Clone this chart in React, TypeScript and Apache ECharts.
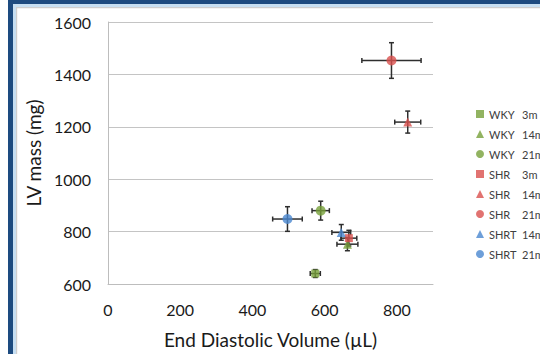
import React, { useEffect, useRef } from "react";
import * as echarts from "echarts";

const groups = ["WKY 3m", "WKY 14m", "WKY 21m", "SHR 3m", "SHR 14m", "SHR 21m", "SHRT 14m", "SHRT 21m"];
const edv = [574, 663, 589, 667, 830, 785, 646, 497];
const lvMass = [640, 752, 880, 775, 1218, 1453, 797, 848];
const edvErr = [14, 29, 24, 22, 36, 82, 26, 41];
const massErr = [15, 25, 36, 30, 42, 68, 30, 47];
const symbols = ["rect", "triangle", "circle", "rect", "triangle", "circle", "triangle", "circle"];
const symbolSizes = [8, 9, 10, 8, 9, 10, 9, 10];
const colors = ["#77a03a", "#77a03a", "#77a03a", "#d9504e", "#d9504e", "#d9504e", "#4a87cf", "#4a87cf"];
const xTicks = [0, 200, 400, 600, 800];

export default function App() {
  const ref = useRef<HTMLDivElement>(null);
  useEffect(() => {
    document.body.style.margin = "0";
    const chart = echarts.init(ref.current!, null, { renderer: "svg" });
    const font = "Lato, 'Open Sans', sans-serif";
    const errData = groups.map((g, i) => [edv[i], lvMass[i], edvErr[i], massErr[i]]);
    const option: any = {
      animation: false,
      backgroundColor: "#ffffff",
      grid: { left: 108, right: 107, top: 22, bottom: 69, containLabel: false },
      xAxis: {
        type: "value",
        min: 0,
        max: 900,
        interval: 200,
        name: "End Diastolic Volume (µL)",
        nameLocation: "middle",
        nameGap: 46,
        nameTextStyle: { fontFamily: font, fontSize: 19, color: "#1a1a1a" },
        axisLine: { show: true, lineStyle: { color: "#bdbdbd", width: 1 } },
        axisTick: { show: false },
        splitLine: { show: false },
        axisLabel: {
          margin: 17,
          fontFamily: font,
          fontSize: 16,
          color: "#1a1a1a",
          showMaxLabel: false,
          formatter: (v: number) => (xTicks.indexOf(v) >= 0 ? String(v) : ""),
        },
      },
      yAxis: {
        type: "value",
        min: 600,
        max: 1600,
        interval: 200,
        name: "LV mass (mg)",
        nameLocation: "middle",
        nameGap: 57,
        nameTextStyle: { fontFamily: font, fontSize: 19, color: "#1a1a1a" },
        axisLine: { show: true, lineStyle: { color: "#bdbdbd", width: 1 } },
        axisTick: { show: false },
        splitLine: { show: true, lineStyle: { color: "#c4c4c4", width: 1 } },
        axisLabel: {
          margin: 17,
          fontFamily: font,
          fontSize: 16,
          color: "#1a1a1a",
          formatter: (v: number) => String(v),
        },
      },
      legend: {
        orient: "vertical",
        left: 471,
        top: 103,
        itemWidth: 8,
        itemHeight: 8,
        itemGap: 8,
        data: groups,
        formatter: (name: string) => {
          const [a, b] = name.split(" ");
          return `{a|${a}}{b|${b}}`;
        },
        textStyle: {
          fontFamily: font,
          fontSize: 11,
          color: "#404040",
          lineHeight: 12,
          rich: {
            a: { width: 33, fontFamily: font, fontSize: 11, color: "#404040", lineHeight: 12 },
            b: { fontFamily: font, fontSize: 11, color: "#404040", lineHeight: 12 },
          },
        },
      },
      graphic: [
        { type: "rect", shape: { x: 8, y: 0, width: 532, height: 4 }, style: { fill: "#1d4b80" }, z: 100 },
        { type: "rect", shape: { x: 8, y: 0, width: 5, height: 354 }, style: { fill: "#1d4b80" }, z: 100 },
        { type: "rect", shape: { x: 13, y: 4, width: 527, height: 3 }, style: { fill: "#c7dff2" }, z: 100 },
        { type: "rect", shape: { x: 13, y: 4, width: 3, height: 350 }, style: { fill: "#c7dff2" }, z: 100 },
        { type: "rect", shape: { x: 16, y: 7, width: 524, height: 1.2 }, style: { fill: "#cfcfcf" }, z: 100 },
        { type: "rect", shape: { x: 16, y: 7, width: 1.2, height: 347 }, style: { fill: "#cfcfcf" }, z: 100 },
      ],
      series: [
        {
          type: "custom",
          z: 1,
          encode: { x: 0, y: 1 },
          data: errData,
          renderItem: (params: any, api: any) => {
            const x = api.value(0), y = api.value(1), ex = api.value(2), ey = api.value(3);
            const l = api.coord([x - ex, y]);
            const r = api.coord([x + ex, y]);
            const t = api.coord([x, y + ey]);
            const b = api.coord([x, y - ey]);
            const cap = 2.5;
            const style = { stroke: "#2e2e2e", lineWidth: 1.5 };
            return {
              type: "group",
              children: [
                { type: "line", shape: { x1: l[0], y1: l[1], x2: r[0], y2: r[1] }, style },
                { type: "line", shape: { x1: l[0], y1: l[1] - cap, x2: l[0], y2: l[1] + cap }, style },
                { type: "line", shape: { x1: r[0], y1: r[1] - cap, x2: r[0], y2: r[1] + cap }, style },
                { type: "line", shape: { x1: t[0], y1: t[1], x2: b[0], y2: b[1] }, style },
                { type: "line", shape: { x1: t[0] - cap, y1: t[1], x2: t[0] + cap, y2: t[1] }, style },
                { type: "line", shape: { x1: b[0] - cap, y1: b[1], x2: b[0] + cap, y2: b[1] }, style },
              ],
            };
          },
        },
        ...groups.map((g, i) => ({
          type: "scatter",
          name: g,
          z: 3,
          symbol: symbols[i],
          symbolSize: symbolSizes[i],
          itemStyle: { color: colors[i] },
          data: [[edv[i], lvMass[i]]],
        })),
      ],
    };
    chart.setOption(option);
    return () => chart.dispose();
  }, []);
  return <div ref={ref} style={{ width: 540, height: 354 }} />;
}
